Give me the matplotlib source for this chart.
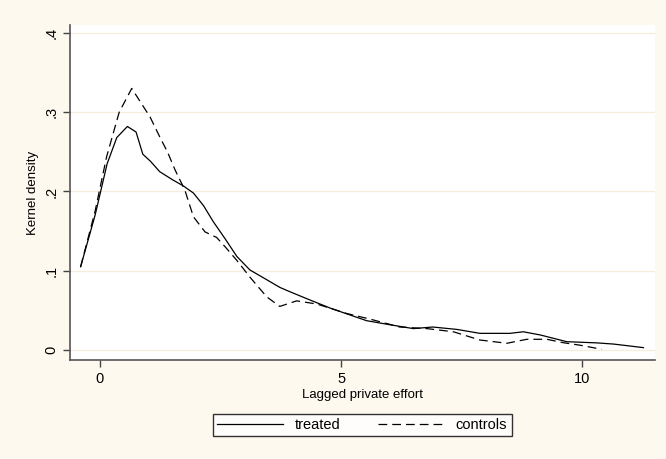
import numpy as np
import matplotlib.pyplot as plt

# curvas (densidade kernel)
x_treated = [-0.40, -0.10, 0.15, 0.35, 0.57, 0.75, 0.89, 1.05, 1.24, 1.50, 1.73, 1.94,
             2.15, 2.35, 2.60, 2.84, 3.11, 3.45, 3.73, 4.00, 4.36, 4.77, 5.10, 5.53,
             6.00, 6.50, 6.90, 7.40, 7.88, 8.50, 8.78, 9.13, 9.68, 10.30, 10.65, 11.27]
y_treated = [0.105, 0.170, 0.235, 0.268, 0.282, 0.275, 0.247, 0.238, 0.225, 0.215, 0.207, 0.198,
             0.182, 0.162, 0.140, 0.118, 0.101, 0.089, 0.079, 0.072, 0.063, 0.053, 0.046, 0.037,
             0.032, 0.027, 0.029, 0.026, 0.021, 0.021, 0.023, 0.019, 0.0105, 0.009, 0.0075, 0.003]

x_controls = [-0.40, -0.10, 0.14, 0.40, 0.66, 0.85, 1.04, 1.24, 1.40, 1.56, 1.76, 1.94,
              2.18, 2.42, 2.60, 2.84, 3.11, 3.46, 3.73, 4.08, 4.50, 5.12, 5.60, 6.22,
              6.78, 7.33, 7.88, 8.44, 8.85, 9.27, 9.61, 9.96, 10.40]
y_controls = [0.105, 0.175, 0.244, 0.300, 0.330, 0.312, 0.294, 0.269, 0.250, 0.227, 0.202, 0.168,
              0.149, 0.142, 0.130, 0.113, 0.092, 0.067, 0.055, 0.062, 0.058, 0.046, 0.039, 0.029,
              0.027, 0.023, 0.0126, 0.0085, 0.0135, 0.0135, 0.0092, 0.006, 0.001]

bg = '#fdf9ee'
plt.rcParams['font.family'] = ['Liberation Sans', 'DejaVu Sans']

fig = plt.figure(figsize=(6.66, 4.59), dpi=100, facecolor=bg)
ax = fig.add_axes([0.1051, 0.2157, 0.8784, 0.7298])
ax.set_facecolor('white')

ax.plot(x_treated, y_treated, '-', color='black', lw=0.9, label='treated')
ax.plot(x_controls, y_controls, '--', color='black', lw=0.9, dashes=(7, 4), label='controls')

ax.set_xlim(-0.62, 11.51)
ax.set_ylim(-0.0126, 0.41)
ax.set_xticks([0, 5, 10])
ax.set_yticks([0, 0.1, 0.2, 0.3, 0.4])
ax.set_yticklabels(['0', '.1', '.2', '.3', '.4'], rotation=90, va='center')
ax.tick_params(direction='out', length=5, width=1, colors='#444444', labelsize=10.5,
               labelcolor='black')
ax.grid(axis='y', color='#f5eedc', lw=0.9)
ax.set_axisbelow(True)

for s in ['top', 'right']:
    ax.spines[s].set_visible(False)
for s in ['left', 'bottom']:
    ax.spines[s].set_color('#555555')
    ax.spines[s].set_linewidth(1.2)

ax.set_xlabel('Lagged private effort', fontsize=9.5, labelpad=2)
ax.set_ylabel('Kernel density', fontsize=9.5, labelpad=4)

leg = fig.legend(loc='center', bbox_to_anchor=(0.544, 0.074), ncol=2, frameon=True,
                 fancybox=False, edgecolor='black', fontsize=10.5, handlelength=4.5,
                 columnspacing=2.6, borderpad=0.3)
leg.get_frame().set_linewidth(1.0)

fig.savefig('out.png', dpi=100, facecolor=bg)
